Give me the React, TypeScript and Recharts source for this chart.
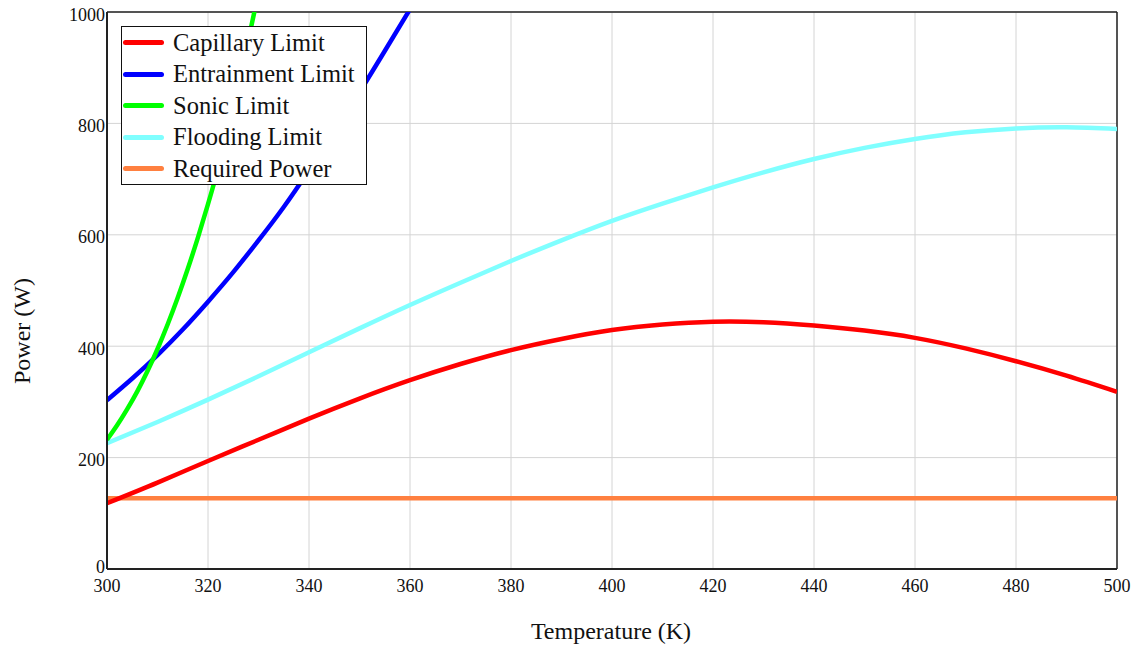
import React from "react";
import {
  LineChart,
  Line,
  XAxis,
  YAxis,
  CartesianGrid,
  ReferenceLine,
} from "recharts";

// ---- Data ----
const tempK = [300, 310, 320, 330, 340, 350, 360, 370, 380, 390, 400, 410, 420, 430, 440, 450, 460, 470, 480, 490, 500];
const capillaryW = [118, 155, 194, 232, 270, 306, 339, 368, 393, 413, 429, 439, 444, 443, 437, 428, 415, 396, 373, 347, 318];
const floodingW = [226, 264, 304, 346, 389, 432, 474, 514, 553, 590, 625, 656, 685, 712, 736, 756, 772, 784, 791, 793, 790];

const entrainT = [300, 305, 310, 315, 320, 325, 330, 335, 340, 345, 350, 355, 360];
const entrainW = [303, 342, 384, 430, 480, 533, 590, 650, 716, 785, 856, 930, 1005];

const sonicT = [300, 302, 304, 306, 308, 310, 312, 314, 316, 318, 320, 322, 324, 326, 328, 330];
const sonicW = [232, 258, 287, 319, 355, 395, 439, 487, 539, 595, 655, 719, 790, 868, 950, 1035];

const requiredT = [300, 500];
const requiredW = [127, 127];

const xTicks = [300, 320, 340, 360, 380, 400, 420, 440, 460, 480, 500];
const yTicks = [0, 200, 400, 600, 800, 1000];

const toPts = (ts: number[], ps: number[]) => ts.map((t, i) => ({ t, p: ps[i] }));

const capillaryData = toPts(tempK, capillaryW);
const floodingData = toPts(tempK, floodingW);
const entrainData = toPts(entrainT, entrainW);
const sonicData = toPts(sonicT, sonicW);
const requiredData = toPts(requiredT, requiredW);

const SERIF = "'Liberation Serif', 'Times New Roman', serif";

const legendItems = [
  { name: "Capillary Limit", color: "#ff0000" },
  { name: "Entrainment Limit", color: "#0000ff" },
  { name: "Sonic Limit", color: "#00ff00" },
  { name: "Flooding Limit", color: "#80ffff" },
  { name: "Required Power", color: "#ff8040" },
];

const LW = 4.5;

const XTick = (props: any) => {
  const { x, y, payload } = props;
  return (
    <text x={x} y={y + 23} textAnchor="middle" style={{ fontFamily: SERIF, fontSize: 18 }} fill="#111">
      {payload.value}
    </text>
  );
};

const YTick = (props: any) => {
  const { x, y, payload } = props;
  const dy = payload.value === 0 ? 4 : 8.5;
  return (
    <text x={x - 2} y={y + dy} textAnchor="end" style={{ fontFamily: SERIF, fontSize: 18 }} fill="#111">
      {payload.value}
    </text>
  );
};

export default function App() {
  return (
    <div style={{ position: "absolute", left: 0, top: 0, width: 1140, height: 646, background: "#fff", fontFamily: SERIF }}>
      <LineChart
        width={1140}
        height={646}
        margin={{ top: 12, right: 23, bottom: 47, left: 0 }}
      >
        <CartesianGrid stroke="#d4d4d4" strokeWidth={1} verticalValues={xTicks} horizontalValues={yTicks} />
        <XAxis
          type="number"
          dataKey="t"
          domain={[300, 500]}
          ticks={xTicks}
          allowDataOverflow
          height={30}
          tickSize={0}
          tickMargin={0}
          axisLine={{ stroke: "#222", strokeWidth: 2 }}
          tick={<XTick />}
        />
        <YAxis
          type="number"
          dataKey="p"
          domain={[0, 1000]}
          ticks={yTicks}
          allowDataOverflow
          width={107}
          tickSize={0}
          tickMargin={0}
          axisLine={{ stroke: "#222", strokeWidth: 2 }}
          tick={<YTick />}
        />
        <ReferenceLine y={1000} stroke="#222" strokeWidth={1.5} />
        <ReferenceLine x={500} stroke="#222" strokeWidth={1.5} />
        <Line data={requiredData} dataKey="p" type="linear" stroke="#ff8040" strokeWidth={LW} dot={false} isAnimationActive={false} />
        <Line data={capillaryData} dataKey="p" type="natural" stroke="#ff0000" strokeWidth={LW} dot={false} isAnimationActive={false} />
        <Line data={floodingData} dataKey="p" type="natural" stroke="#80ffff" strokeWidth={LW} dot={false} isAnimationActive={false} />
        <Line data={entrainData} dataKey="p" type="natural" stroke="#0000ff" strokeWidth={LW} dot={false} isAnimationActive={false} />
        <Line data={sonicData} dataKey="p" type="natural" stroke="#00ff00" strokeWidth={LW} dot={false} isAnimationActive={false} />
      </LineChart>

      {/* Legend */}
      <div
        style={{
          position: "absolute",
          left: 121,
          top: 26,
          width: 246,
          height: 159,
          border: "1.5px solid #111",
          background: "#fff",
          fontFamily: SERIF,
          fontSize: 24.5,
          color: "#111",
          boxSizing: "border-box",
        }}
      >
        {legendItems.map((it) => (
          <div key={it.name} style={{ display: "flex", alignItems: "center", height: 31.5, whiteSpace: "nowrap" }}>
            <div style={{ width: 41, height: 5, borderRadius: 3, background: it.color, marginLeft: 1, marginRight: 9 }} />
            <span style={{ lineHeight: "24px" }}>{it.name}</span>
          </div>
        ))}
      </div>

      {/* Axis titles */}
      <div
        style={{
          position: "absolute",
          left: 611,
          top: 617,
          transform: "translateX(-50%)",
          fontFamily: SERIF,
          fontSize: 24,
          color: "#111",
          lineHeight: "28px",
          whiteSpace: "nowrap",
        }}
      >
        Temperature (K)
      </div>
      <div
        style={{
          position: "absolute",
          left: 22,
          top: 331,
          transform: "translate(-50%, -50%) rotate(-90deg)",
          fontFamily: SERIF,
          fontSize: 24,
          color: "#111",
          whiteSpace: "nowrap",
          lineHeight: "28px",
        }}
      >
        Power (W)
      </div>
    </div>
  );
}
